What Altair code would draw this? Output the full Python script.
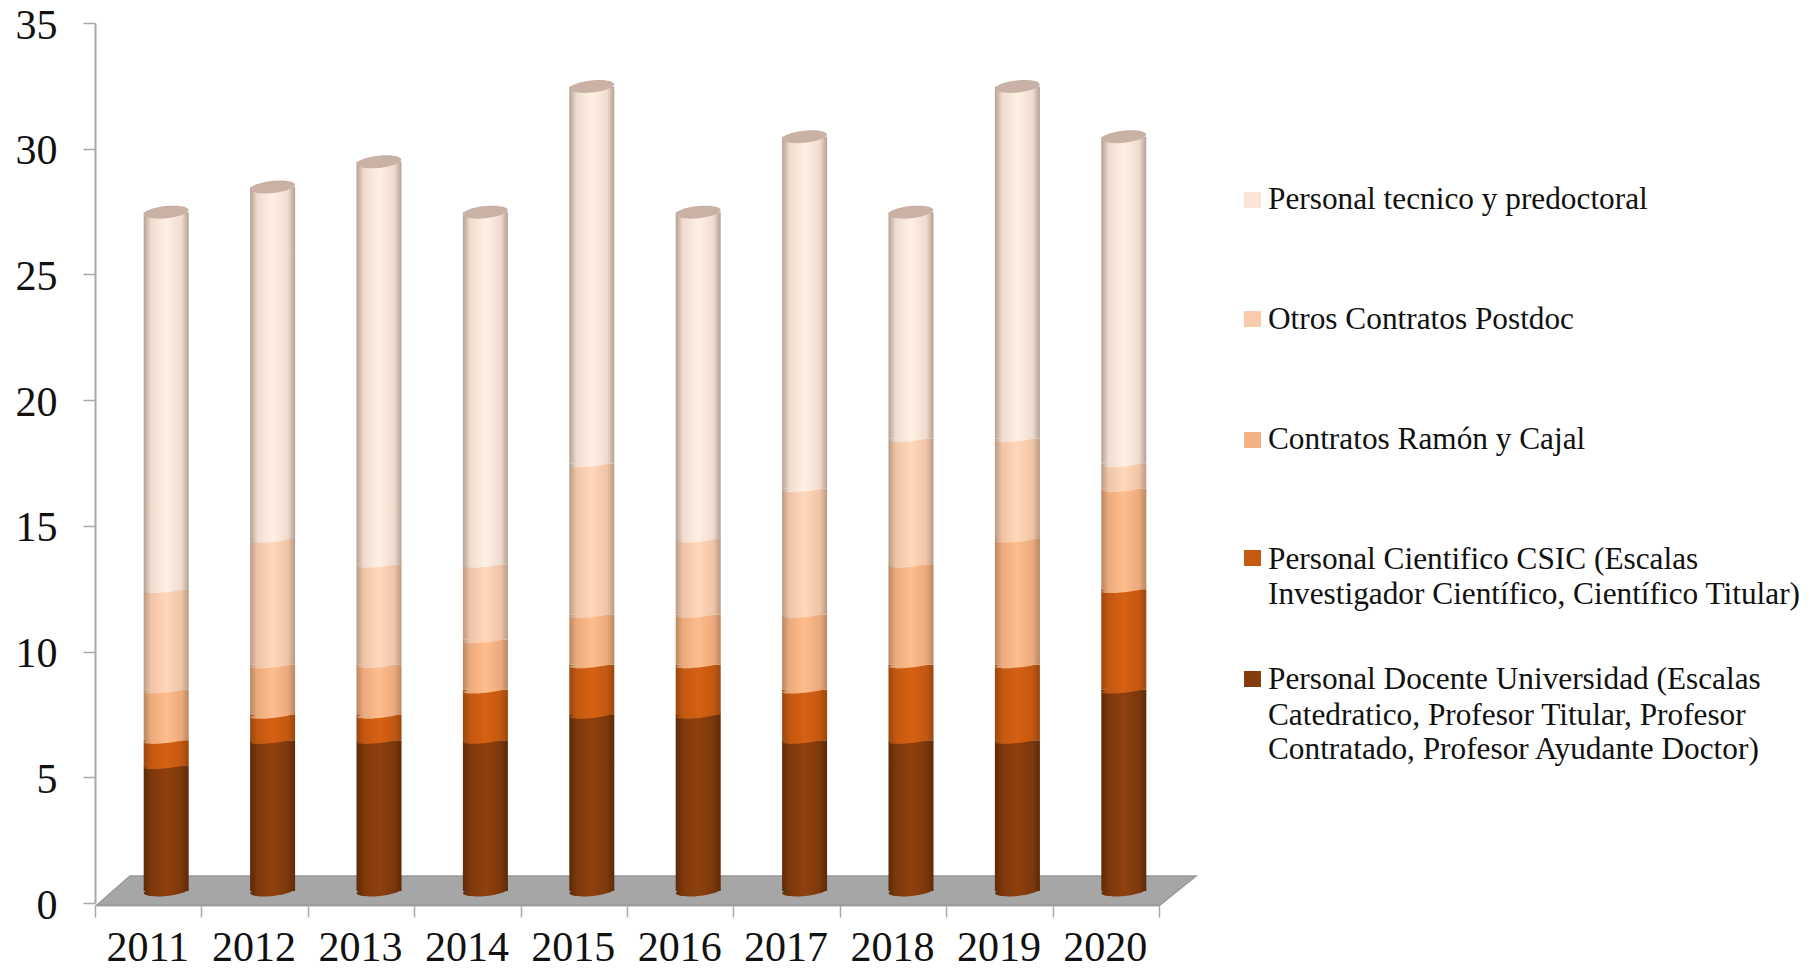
import math
import altair as alt
import pandas as pd

years = ["2011", "2012", "2013", "2014", "2015", "2016", "2017", "2018", "2019", "2020"]

# Stacked head-counts, bottom series first
docente = [5, 6, 6, 6, 7, 7, 6, 6, 6, 8]
csic = [1, 1, 1, 2, 2, 2, 2, 3, 3, 4]
ramon = [2, 2, 2, 2, 2, 2, 3, 4, 5, 4]
postdoc = [4, 5, 4, 3, 6, 3, 5, 5, 4, 1]
tecnico = [15, 14, 16, 14, 15, 13, 14, 9, 14, 13]

series = [docente, csic, ramon, postdoc, tecnico]

# edge, mid-shade, centre colours of each cylinder band
shades = [
    ("#5c2a08", "#7c380b", "#8f410e"),
    ("#9a460d", "#c25810", "#d66112"),
    ("#b98761", "#ecaa7c", "#ffbd8d"),
    ("#b99a84", "#f0c4a6", "#ffd7ba"),
    ("#b3a195", "#f0dccf", "#fff0e4"),
]
cap_color = "#c9b2a5"

legend_colors = ["#843c0c", "#c55a11", "#f4b183", "#f8cbad", "#fbe5d6"]
legend_entries = [
    (671, [(689, "Personal Docente Universidad (Escalas"),
           (725, "Catedratico, Profesor Titular, Profesor"),
           (759, "Contratado, Profesor Ayudante Doctor)")]),
    (550, [(569, "Personal Cientifico CSIC (Escalas"),
           (604, "Investigador Científico, Científico Titular)")]),
    (432, [(449, "Contratos Ramón y Cajal")]),
    (311, [(329, "Otros Contratos Postdoc")]),
    (192, [(209, "Personal tecnico y predoctoral")]),
]

FONT = "Liberation Serif"
AXIS_GREY = "#a8a8a8"
PLOT_LEFT, PLOT_TOP = 95, 23
PLOT_W, PLOT_H = 1064, 880
BAR_W = 45
DEPTH_X, DEPTH_Y = 18, -12


def ellipse_path(ry, tilt_deg=-6):
    """Unit-width tilted ellipse as cubic Beziers, for use as a symbol shape."""
    k = 0.5523
    t = math.radians(tilt_deg)
    def p(x, y):
        return f"{x * math.cos(t) - y * math.sin(t):.4f},{x * math.sin(t) + y * math.cos(t):.4f}"
    return (
        f"M{p(-1, 0)}"
        f"C{p(-1, k * ry)} {p(-k, ry)} {p(0, ry)}"
        f"C{p(k, ry)} {p(1, k * ry)} {p(1, 0)}"
        f"C{p(1, -k * ry)} {p(k, -ry)} {p(0, -ry)}"
        f"C{p(-k, -ry)} {p(-1, -k * ry)} {p(-1, 0)}Z"
    )


def cylinder_fill(edge, mid, centre):
    return alt.Gradient(
        gradient="linear", x1=0, x2=1, y1=0, y2=0,
        stops=[
            alt.GradientStop(color=edge, offset=0),
            alt.GradientStop(color=mid, offset=0.16),
            alt.GradientStop(color=centre, offset=0.5),
            alt.GradientStop(color=mid, offset=0.84),
            alt.GradientStop(color=edge, offset=1),
        ],
    )


x_enc = alt.X(
    "year:N",
    sort=years,
    scale=alt.Scale(domain=years, paddingInner=0, paddingOuter=0),
    axis=alt.Axis(
        title=None, labelAngle=0, labelFont=FONT, labelFontSize=42, labelColor="#111111",
        labelPadding=10, labelOffset=-1, tickBand="extent", tickSize=12, tickColor=AXIS_GREY,
        tickWidth=1.5, domainColor=AXIS_GREY, domainWidth=2, offset=2, grid=False,
    ),
)
y_scale = alt.Scale(domain=[0, 35], nice=False, zero=True)
y_axis = alt.Axis(
    title=None, values=[0, 5, 10, 15, 20, 25, 30, 35], labelFont=FONT, labelFontSize=42,
    labelColor="#111111", labelPadding=26, labelOffset=2, tickSize=12, tickColor=AXIS_GREY,
    tickWidth=1.5, domainColor=AXIS_GREY, domainWidth=2, grid=False,
)

layers = []

# Grey floor of the pseudo-3D chart, in plot pixels
floor_path = "M2,882L35,853L1101,853L1065,882Z"
base = (
    alt.Chart(pd.DataFrame({"year": years, "v": [0] * len(years)}))
    .mark_point(filled=True, size=0, opacity=0)
    .encode(x=x_enc, y=alt.Y("v:Q", scale=y_scale, axis=y_axis))
)
layers.append(base)
layers.append(
    alt.Chart(pd.DataFrame({"k": [0]}))
    .mark_point(shape=floor_path, size=4, filled=True, fill="#a6a6a6", stroke="#989898",
                strokeWidth=1.5, opacity=1)
    .encode(x=alt.value(0), y=alt.value(0))
)

running = [0] * len(years)
for values, (edge, mid, centre) in zip(series, shades):
    frame = pd.DataFrame({
        "year": years,
        "start": running,
        "end": [a + b for a, b in zip(running, values)],
    })
    fill = cylinder_fill(edge, mid, centre)
    layers.append(
        alt.Chart(frame)
        .mark_bar(width=BAR_W, xOffset=DEPTH_X, yOffset=DEPTH_Y, y2Offset=DEPTH_Y, color=fill, opacity=1)
        .encode(x=alt.X("year:N", sort=years),
                y=alt.Y("start:Q", scale=y_scale), y2="end:Q")
    )
    # Rounded lower rim of the band; the base of the column gets a deeper curve
    is_base = all(v == 0 for v in running)
    layers.append(
        alt.Chart(frame)
        .mark_point(shape=ellipse_path(0.22 if is_base else 0.13), size=BAR_W ** 2, filled=True,
                    fill=fill, stroke=None, opacity=1, xOffset=DEPTH_X, yOffset=DEPTH_Y)
        .encode(x=alt.X("year:N", sort=years), y=alt.Y("start:Q", scale=y_scale))
    )
    running = list(frame["end"])

# Lid on top of each column
layers.append(
    alt.Chart(pd.DataFrame({"year": years, "total": running}))
    .mark_point(shape=ellipse_path(0.27), size=BAR_W ** 2, filled=True, fill=cap_color,
                stroke=None, opacity=1, xOffset=DEPTH_X, yOffset=DEPTH_Y)
    .encode(x=alt.X("year:N", sort=years), y=alt.Y("total:Q", scale=y_scale))
)

# Hand-placed key: entries are evenly spaced whatever their number of lines
key_row = pd.DataFrame({"k": [0]})
for color, (box_top, lines) in zip(legend_colors, legend_entries):
    layers.append(
        alt.Chart(key_row)
        .mark_rect(color=color)
        .encode(x=alt.value(1244 - PLOT_LEFT), x2=alt.value(1261 - PLOT_LEFT),
                y=alt.value(box_top - PLOT_TOP), y2=alt.value(box_top + 16 - PLOT_TOP))
    )
    for baseline, text in lines:
        layers.append(
            alt.Chart(key_row)
            .mark_text(text=text, font=FONT, fontSize=31.3, color="#111111", align="left",
                       baseline="alphabetic")
            .encode(x=alt.value(1268 - PLOT_LEFT), y=alt.value(baseline - PLOT_TOP))
        )

chart = (
    alt.layer(*layers)
    .properties(
        width=PLOT_W, height=PLOT_H,
        autosize=alt.AutoSizeParams(type="none"),
        padding={"left": PLOT_LEFT, "top": PLOT_TOP, "right": 1811 - PLOT_LEFT - PLOT_W,
                 "bottom": 972 - PLOT_TOP - PLOT_H},
        background="white",
    )
    .configure_view(stroke=None)
)

chart.save("out.html", embed_options={"renderer": "svg", "actions": False})
